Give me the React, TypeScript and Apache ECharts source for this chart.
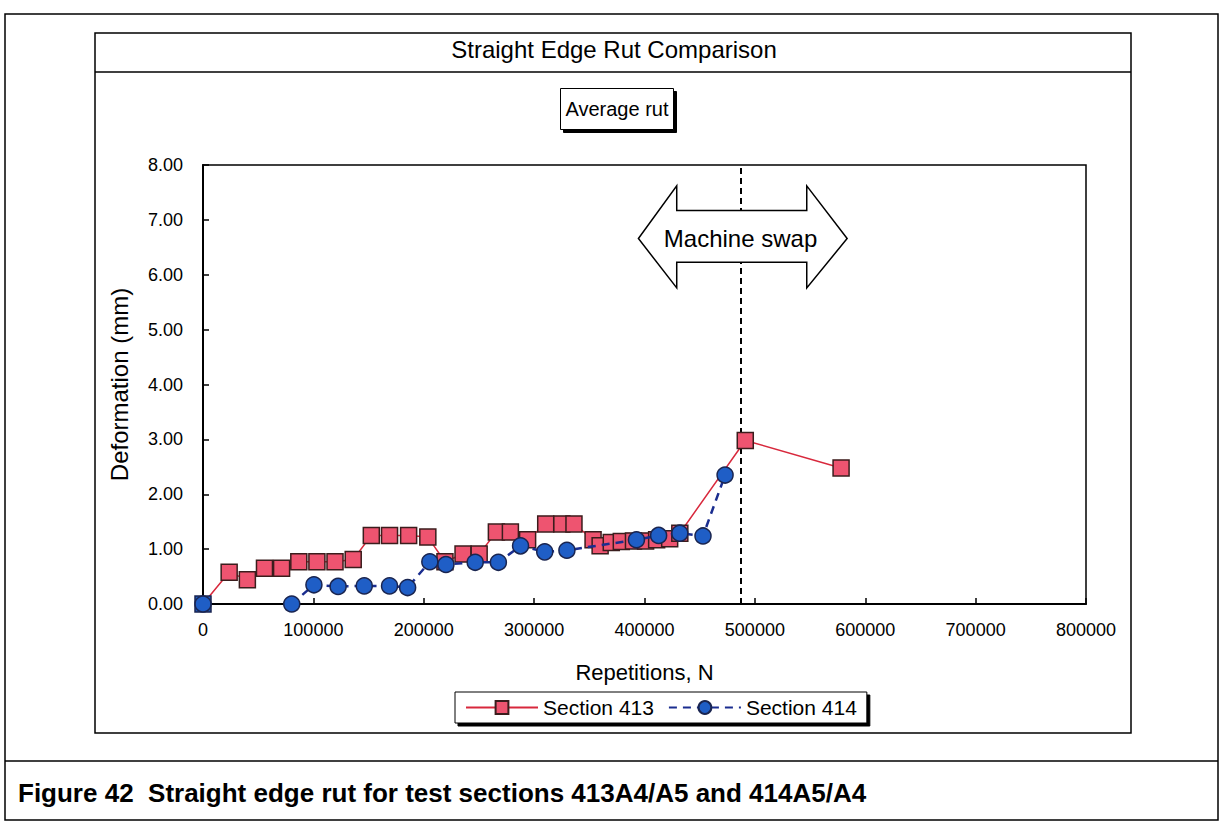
import React, { useEffect, useRef } from "react";
import * as echarts from "echarts";

// ---- axes ----
const X_MIN = 0;
const X_MAX = 800000;
const X_STEP = 100000;
const Y_MIN = 0;
const Y_MAX = 8;
const Y_STEP = 1;

// ---- Section 413 (red squares, solid line) ----
const S413_X = [0, 23700, 40200, 55700, 71200, 86800, 103200, 119600, 136100, 152500, 169000, 186300, 203700, 219200, 235600, 250200, 265800, 278500, 294100, 310500, 325100, 336100, 353400, 359800, 369900, 379000, 390000, 401000, 411000, 422800, 432000, 491300, 578100];
const S413_Y = [0, 0.58, 0.44, 0.65, 0.65, 0.77, 0.77, 0.77, 0.81, 1.25, 1.25, 1.25, 1.22, 0.77, 0.91, 0.91, 1.31, 1.31, 1.17, 1.46, 1.46, 1.46, 1.17, 1.06, 1.12, 1.14, 1.15, 1.15, 1.17, 1.19, 1.29, 2.98, 2.48];

// ---- Section 414 (blue circles, dashed line) ----
const S414_X = [0, 80400, 100500, 122400, 146100, 169000, 185400, 205500, 220100, 246600, 267600, 287700, 309600, 329700, 392700, 412800, 432000, 453000, 473000];
const S414_Y = [0, 0.0, 0.35, 0.32, 0.33, 0.33, 0.30, 0.77, 0.72, 0.76, 0.76, 1.06, 0.95, 0.98, 1.17, 1.25, 1.29, 1.24, 2.35];

// ---- machine swap annotation (data coordinates) ----
const SWAP_X = 487000;
const ARROW_X = [394500, 429200, 429200, 547000, 547000, 583600, 547000, 547000, 429200, 429200];
const ARROW_Y = [6.66, 7.62, 7.17, 7.17, 7.62, 6.66, 5.76, 6.23, 6.23, 5.76];
const ARROW_LABEL_Y = 6.66;

const TITLE = "Straight Edge Rut Comparison";
const SUBTITLE = "Average rut";
const X_NAME = "Repetitions, N";
const Y_NAME = "Deformation (mm)";
const CAPTION = "Figure 42  Straight edge rut for test sections 413A4/A5 and 414A5/A4";
const SERIES_NAMES = ["Section 413", "Section 414"];

const FONT = '"Liberation Sans", Arial, Helvetica, sans-serif';
const RED_FILL = "#ee5470";
const RED_LINE = "#d8283c";
const BLUE_FILL = "#1f5ec6";
const BLUE_LINE = "#1a2d8f";

export default function App() {
  const ref = useRef<HTMLDivElement>(null);

  useEffect(() => {
    if (!ref.current) return;
    const chart = echarts.init(ref.current, null, { renderer: "svg" });

    const redData: any[] = S413_X.map((x, i) =>
      i === 0
        ? { value: [x, S413_Y[i]], itemStyle: { color: BLUE_FILL, borderColor: "#1a2550" } }
        : [x, S413_Y[i]]
    );
    const blueData: any[] = [];
    S414_X.forEach((x, i) => {
      blueData.push([x, S414_Y[i]]);
      if (i === 0) blueData.push("-");
    });

    const option: any = {
      animation: false,
      backgroundColor: "#fff",
      textStyle: { fontFamily: FONT, color: "#000" },
      title: [
        {
          text: TITLE,
          left: 614,
          top: 37,
          textAlign: "center",
          padding: 0,
          textStyle: { fontSize: 24, fontWeight: "normal", color: "#000", fontFamily: FONT },
        },
        {
          text: SUBTITLE,
          left: 612,
          top: 88,
          textAlign: "center",
          padding: [11, 5],
          borderColor: "#000",
          borderWidth: 1,
          backgroundColor: "#fff",
          shadowColor: "#000",
          shadowOffsetX: 3,
          shadowOffsetY: 3,
          shadowBlur: 0,
          textStyle: { fontSize: 20, fontWeight: "normal", color: "#000", fontFamily: FONT },
        },
      ],
      legend: {
        data: SERIES_NAMES,
        left: 455,
        top: 692,
        orient: "horizontal",
        padding: [5, 10],
        itemWidth: 72,
        itemHeight: 16,
        itemGap: 14,
        borderColor: "#000",
        borderWidth: 1,
        backgroundColor: "#fff",
        shadowColor: "#000",
        shadowOffsetX: 3,
        shadowOffsetY: 3,
        shadowBlur: 0,
        textStyle: { fontSize: 21, color: "#000", fontFamily: FONT },
      },
      grid: {
        left: 203,
        top: 165,
        right: 135,
        bottom: 221,
        show: true,
        borderColor: "#000",
        borderWidth: 1.5,
        backgroundColor: "transparent",
      },
      xAxis: {
        type: "value",
        min: X_MIN,
        max: X_MAX,
        interval: X_STEP,
        name: X_NAME,
        nameLocation: "middle",
        nameGap: 57,
        nameTextStyle: { fontSize: 22, color: "#000", fontFamily: FONT },
        axisLine: { show: true, onZero: false, lineStyle: { color: "#000", width: 2 } },
        axisTick: { show: true, inside: true, length: 6, lineStyle: { color: "#000", width: 1.5 } },
        axisLabel: {
          fontSize: 18,
          color: "#000",
          margin: 17,
          fontFamily: FONT,
          formatter: (v: number) => String(v),
        },
        splitLine: { show: false },
      },
      yAxis: {
        type: "value",
        min: Y_MIN,
        max: Y_MAX,
        interval: Y_STEP,
        name: Y_NAME,
        nameLocation: "middle",
        nameRotate: 90,
        nameGap: 72,
        nameTextStyle: { fontSize: 24, color: "#000", fontFamily: FONT },
        axisLine: { show: true, lineStyle: { color: "#000", width: 2 } },
        axisTick: { show: true, inside: true, length: 6, lineStyle: { color: "#000", width: 1.5 } },
        axisLabel: {
          fontSize: 18,
          color: "#000",
          margin: 20,
          fontFamily: FONT,
          formatter: (v: number) => v.toFixed(2),
        },
        splitLine: { show: false },
      },
      series: [
        {
          name: SERIES_NAMES[0],
          type: "line",
          data: redData,
          symbol: "rect",
          symbolSize: 16,
          showAllSymbol: true,
          lineStyle: { color: RED_LINE, width: 1.5 },
          itemStyle: { color: RED_FILL, borderColor: "#3b1d1d", borderWidth: 1.5 },
          z: 2,
          markLine: {
            silent: true,
            z: 1,
            symbol: "none",
            label: { show: false },
            lineStyle: { color: "#000", width: 2, type: [6, 4] },
            data: [{ xAxis: SWAP_X }],
          },
        },
        {
          name: SERIES_NAMES[1],
          type: "line",
          data: blueData,
          symbol: "circle",
          symbolSize: 16,
          showAllSymbol: true,
          connectNulls: false,
          lineStyle: { color: BLUE_LINE, width: 2.5, type: [8, 6] },
          itemStyle: { color: BLUE_FILL, borderColor: "#1a2550", borderWidth: 1.5 },
          z: 3,
        },
        {
          name: "arrow",
          type: "custom",
          coordinateSystem: "cartesian2d",
          silent: true,
          clip: false,
          z: 10,
          data: [[SWAP_X, ARROW_LABEL_Y]],
          renderItem: (params: any, api: any) => {
            const pts = ARROW_X.map((x, i) => api.coord([x, ARROW_Y[i]]));
            const c = api.coord([api.value(0), api.value(1)]);
            return {
              type: "group",
              children: [
                {
                  type: "polygon",
                  shape: { points: pts },
                  style: { fill: "#fff", stroke: "#000", lineWidth: 1.5 },
                },
                {
                  type: "text",
                  x: c[0],
                  y: c[1],
                  style: {
                    text: "Machine swap",
                    fill: "#000",
                    font: `24px ${FONT}`,
                    align: "center",
                    verticalAlign: "middle",
                  },
                },
              ],
            };
          },
        },
      ],
      graphic: [
        {
          type: "rect",
          silent: true,
          z: -10,
          shape: { x: 5, y: 14, width: 1213, height: 806 },
          style: { fill: "transparent", stroke: "#000", lineWidth: 1.5 },
        },
        {
          type: "line",
          silent: true,
          shape: { x1: 5, y1: 761, x2: 1218, y2: 761 },
          style: { stroke: "#000", lineWidth: 1.5 },
        },
        {
          type: "rect",
          silent: true,
          z: -10,
          shape: { x: 95, y: 33, width: 1036, height: 700 },
          style: { fill: "transparent", stroke: "#000", lineWidth: 1.5 },
        },
        {
          type: "line",
          silent: true,
          shape: { x1: 95, y1: 72, x2: 1131, y2: 72 },
          style: { stroke: "#000", lineWidth: 1.5 },
        },
        {
          type: "text",
          silent: true,
          x: 18,
          y: 793,
          style: {
            text: CAPTION,
            fill: "#000",
            font: `bold 26px ${FONT}`,
            verticalAlign: "middle",
          },
        },
      ],
    };

    chart.setOption(option);
    return () => chart.dispose();
  }, []);

  return (
    <div
      ref={ref}
      style={{ position: "absolute", left: 0, top: 0, width: 1221, height: 825 }}
    />
  );
}
